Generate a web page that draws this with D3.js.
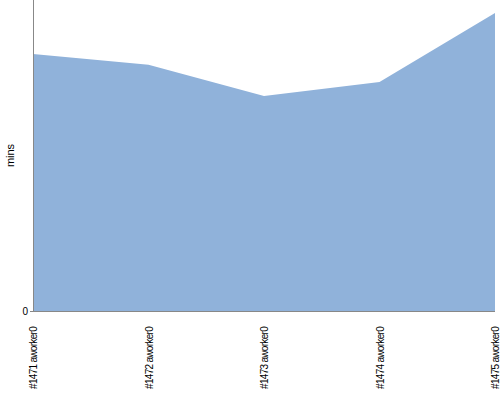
<!DOCTYPE html>
<html><head><meta charset="utf-8">
<script src="https://cdn.jsdelivr.net/npm/d3@7"></script>
<style>body{margin:0;background:#fff}svg{display:block}</style>
</head><body><svg id="c" width="500" height="400"></svg>
<script>
const categories = ["#1471 aworker0","#1472 aworker0","#1473 aworker0","#1474 aworker0","#1475 aworker0"];
const values = [49.6, 47.5, 41.5, 44.2, 57.5];
const yTicks = [0];

const svg = d3.select("#c");
const m = {l:33, r:5, t:0, b:89};
const W = 500, H = 400;
const x = d3.scalePoint().domain(categories).range([m.l, W - m.r]);
const y = d3.scaleLinear().domain([0, 60]).range([H - m.b, m.t]);

const area = d3.area().x(d => x(d.c)).y0(y(0)).y1(d => y(d.v));
const data = categories.map((c,i)=>({c, v: values[i]}));
svg.append("path").datum(data).attr("d", area).attr("fill", "#90b2da");

const ax = svg.append("g").attr("transform", `translate(0,${H - m.b})`)
  .call(d3.axisBottom(x).tickSize(0).tickPadding(0));
ax.select(".domain").attr("stroke", "#888").attr("d", `M${m.l},0.5H${W - m.r}`);
ax.selectAll("text").attr("font-family", "Liberation Sans, Arial, sans-serif").attr("font-size", 10)
  .attr("letter-spacing", "-0.7px")
  .attr("fill", "#000")
  .attr("transform", "rotate(-90)").attr("text-anchor", "end")
  .attr("x", -16).attr("y", 0).attr("dy", "0.35em");

const ay = svg.append("g").attr("transform", `translate(${m.l},0)`)
  .call(d3.axisLeft(y).tickValues(yTicks).tickSize(3).tickPadding(2));
ay.select(".domain").attr("stroke", "#888").attr("d", `M0.5,${m.t}V${H - m.b}`);
ay.selectAll(".tick line").attr("stroke", "#888");
ay.selectAll("text").attr("font-family", "Liberation Sans, Arial, sans-serif").attr("font-size", 10).attr("fill", "#000");

svg.append("text").attr("transform", `translate(14,${(H - m.b)/2}) rotate(-90)`)
  .attr("text-anchor", "middle").attr("font-family", "Liberation Sans, Arial, sans-serif")
  .attr("font-size", 11).text("mins");
</script></body></html>
